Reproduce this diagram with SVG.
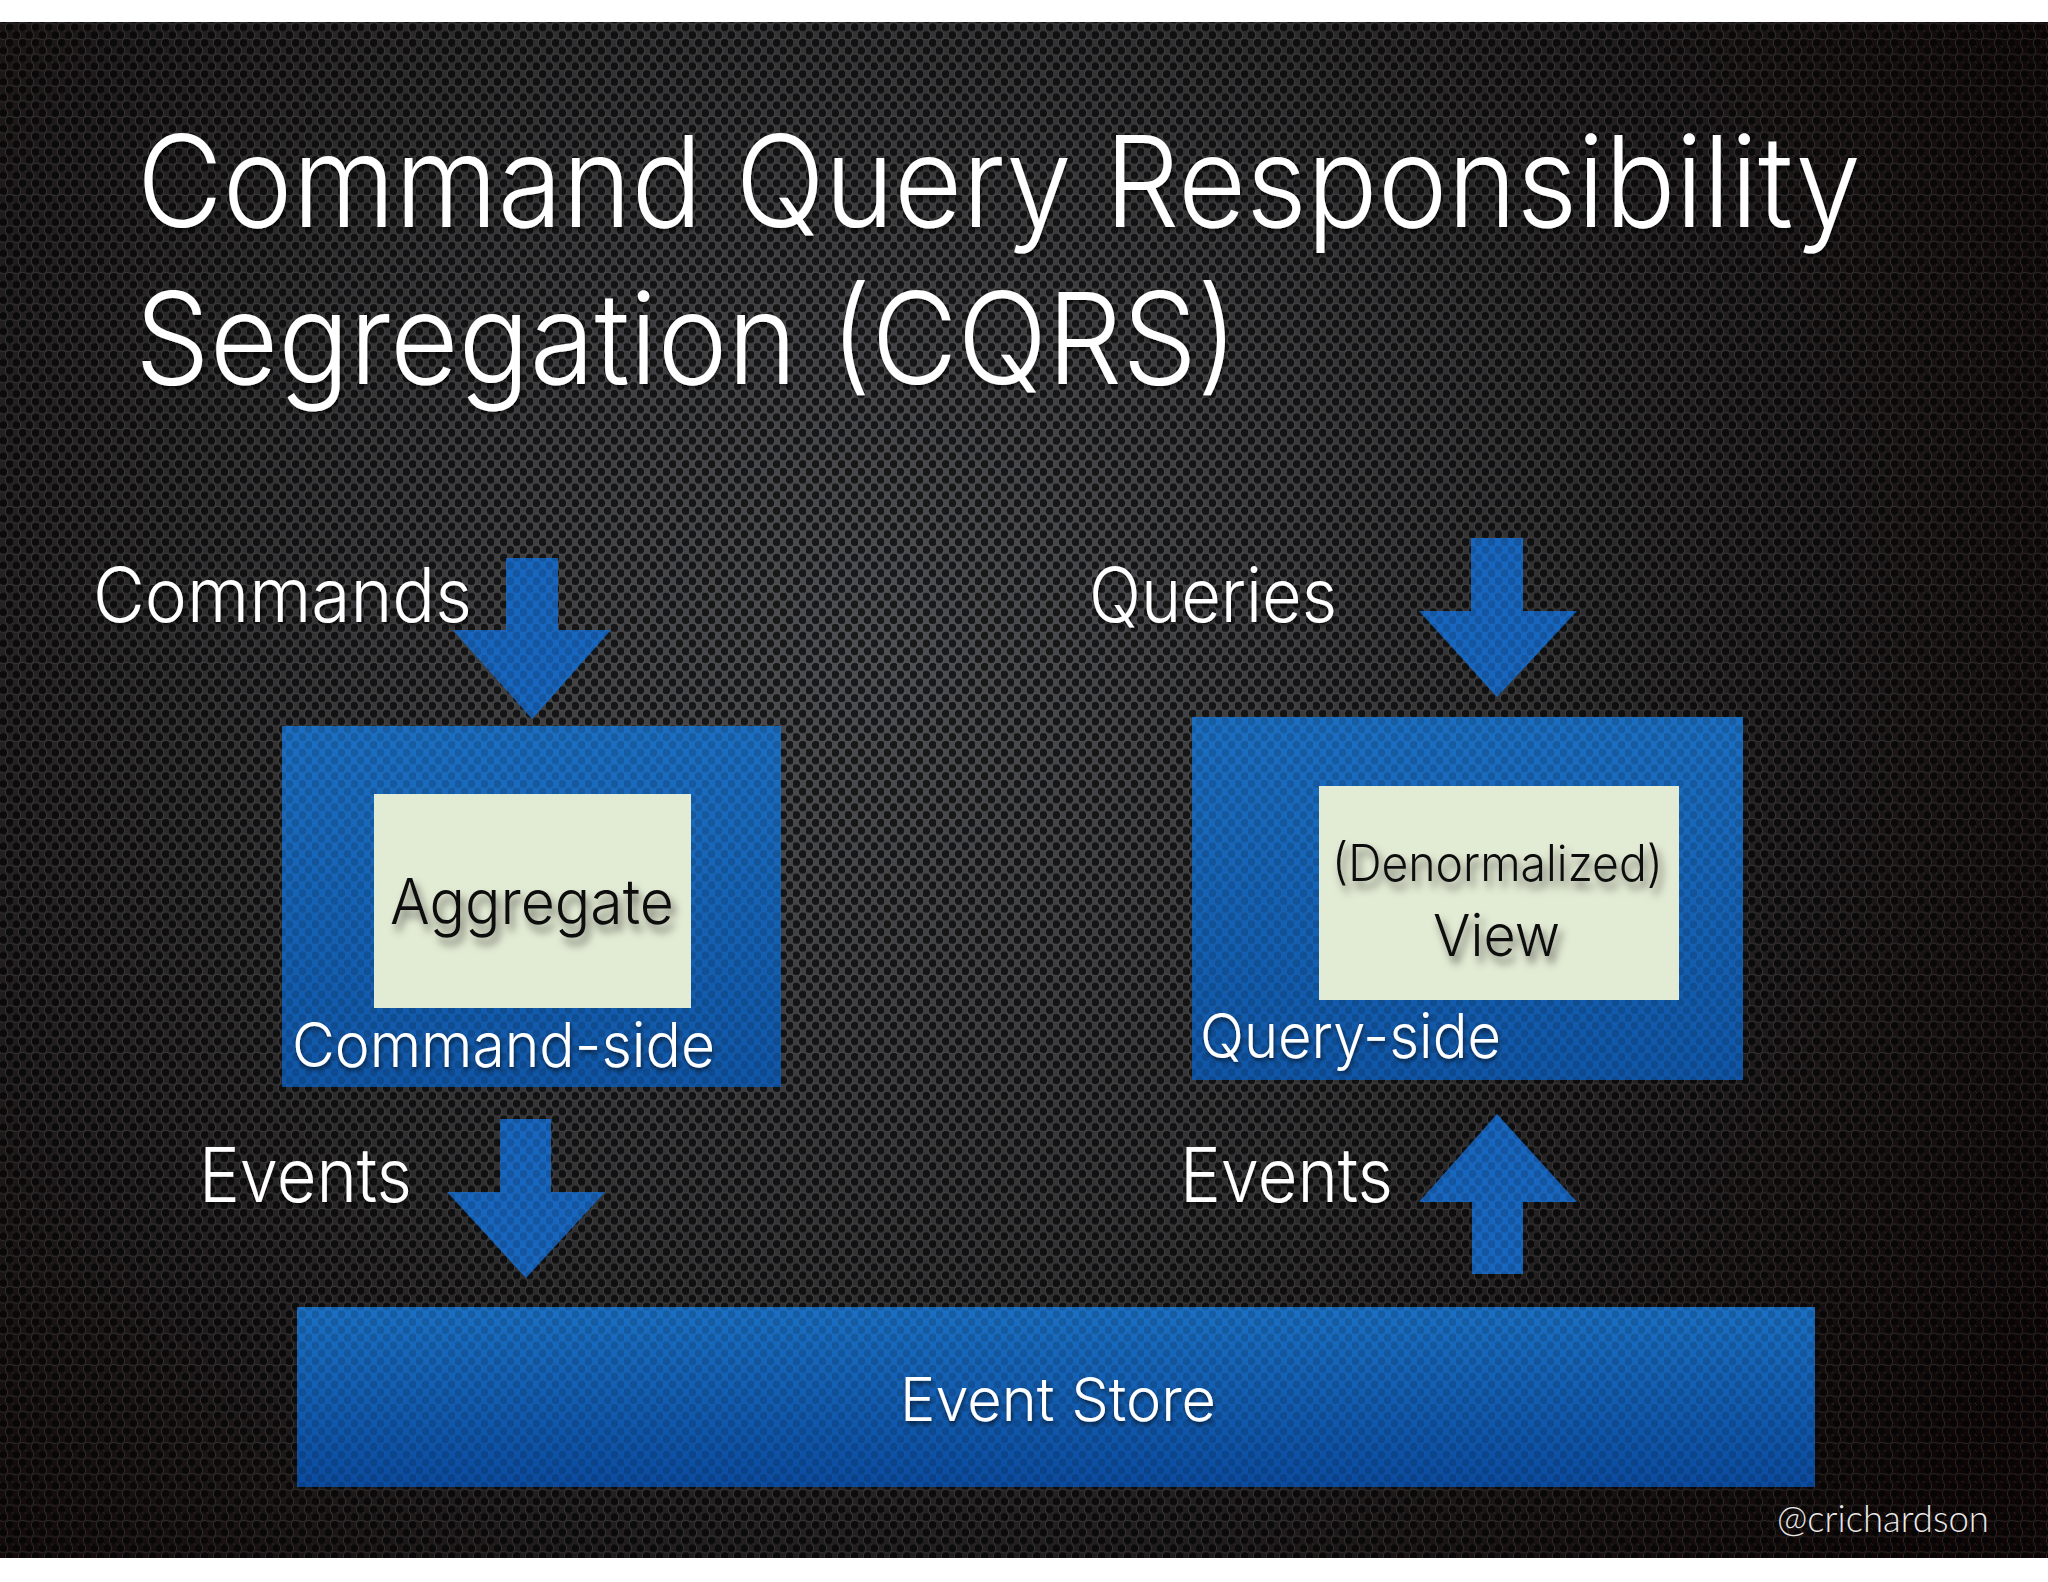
<svg xmlns="http://www.w3.org/2000/svg" width="2048" height="1582" viewBox="0 0 2048 1582">
  <defs>
    <style>
      .title { font-family: "Inter", "Liberation Sans", Arial, sans-serif; font-weight: 300; font-size: 127px; fill: #ffffff; }
      .lbl { font-family: "Inter", "Liberation Sans", Arial, sans-serif; font-weight: 300; font-size: 75px; fill: #ffffff; }
      .side { font-family: "Inter", "Liberation Sans", Arial, sans-serif; font-weight: 300; font-size: 62px; fill: #ffffff; }
      .inner { font-family: "Inter", "Liberation Sans", Arial, sans-serif; font-weight: 300; fill: #111111; }
      .store { font-family: "Inter", "Liberation Sans", Arial, sans-serif; font-weight: 300; font-size: 61px; fill: #ffffff; }
      .credit { font-family: "Lato", "Liberation Sans", Arial, sans-serif; font-weight: 300; font-size: 37px; fill: #e8e8e8; }
      .blue { fill: url(#blueGrad); }
      .arrow { fill: #1766bf; }
      .card { fill: #e2ebd4; }
      .holes { fill: url(#holes); }
      .holesFaint { fill: url(#holes); opacity: 0.22; }
    </style>
    <radialGradient id="bgGrad" cx="880" cy="640" r="1350" gradientUnits="userSpaceOnUse">
      <stop offset="0" stop-color="#505155"/>
      <stop offset="0.45" stop-color="#343436"/>
      <stop offset="0.8" stop-color="#1a1414"/>
      <stop offset="1" stop-color="#100606"/>
    </radialGradient>
    <linearGradient id="blueGrad" x1="0" y1="0" x2="0" y2="1">
      <stop offset="0" stop-color="#1b6fc3"/>
      <stop offset="1" stop-color="#0f56a8"/>
    </linearGradient>
    <linearGradient id="storeGrad" x1="0" y1="0" x2="0" y2="1">
      <stop offset="0" stop-color="#1a70c4"/>
      <stop offset="1" stop-color="#0a4ba0"/>
    </linearGradient>
    <pattern id="holes" patternUnits="userSpaceOnUse" width="13" height="15.6">
      <circle cx="3.25" cy="3.9" r="4.4" fill="#030303" fill-opacity="0.72" stroke="#b0b0b0" stroke-opacity="0.18" stroke-width="1"/>
      <circle cx="9.75" cy="11.7" r="4.4" fill="#030303" fill-opacity="0.72" stroke="#b0b0b0" stroke-opacity="0.18" stroke-width="1"/>
    </pattern>
    <filter id="darkShadow" x="-20%" y="-40%" width="140%" height="180%">
      <feGaussianBlur in="SourceAlpha" stdDeviation="4"/>
      <feOffset dx="4" dy="7" result="b"/>
      <feFlood flood-color="#000000" flood-opacity="0.55"/>
      <feComposite in2="b" operator="in"/>
      <feMerge><feMergeNode/><feMergeNode in="SourceGraphic"/></feMerge>
    </filter>
    <filter id="softShadow" x="-10%" y="-30%" width="120%" height="160%">
      <feGaussianBlur in="SourceAlpha" stdDeviation="2"/>
      <feOffset dx="1" dy="3" result="b"/>
      <feFlood flood-color="#000000" flood-opacity="0.6"/>
      <feComposite in2="b" operator="in"/>
      <feMerge><feMergeNode/><feMergeNode in="SourceGraphic"/></feMerge>
    </filter>
  </defs>

  <!-- page -->
  <rect x="0" y="0" width="2048" height="1582" fill="#ffffff"/>
  <rect x="0" y="22" width="2048" height="1536" fill="url(#bgGrad)"/>
  <rect x="0" y="22" width="2048" height="1536" class="holes"/>

  <!-- title -->
  <g id="title" filter="url(#softShadow)">
    <text class="title" x="137" y="227" textLength="1724" lengthAdjust="spacingAndGlyphs">Command Query Responsibility</text>
    <text class="title" x="135" y="384" textLength="1103" lengthAdjust="spacingAndGlyphs">Segregation (CQRS)</text>
  </g>

  <!-- connectors -->
  <g id="connectors">
    <g id="arrow-commands">
      <polygon class="arrow" points="506,558 558,558 558,630 611,630 532,719 453,630 506,630"/>
      <polygon class="holesFaint" points="506,558 558,558 558,630 611,630 532,719 453,630 506,630"/>
    </g>
    <g id="arrow-queries">
      <polygon class="arrow" points="1471,538 1523,538 1523,611 1577,611 1497,697 1419,611 1471,611"/>
      <polygon class="holesFaint" points="1471,538 1523,538 1523,611 1577,611 1497,697 1419,611 1471,611"/>
    </g>
    <g id="arrow-events-down">
      <polygon class="arrow" points="500,1119 551,1119 551,1192 605,1192 526,1278 447,1192 500,1192"/>
      <polygon class="holesFaint" points="500,1119 551,1119 551,1192 605,1192 526,1278 447,1192 500,1192"/>
    </g>
    <g id="arrow-events-up">
      <polygon class="arrow" points="1472,1274 1523,1274 1523,1202 1577,1202 1497,1114 1419,1202 1472,1202"/>
      <polygon class="holesFaint" points="1472,1274 1523,1274 1523,1202 1577,1202 1497,1114 1419,1202 1472,1202"/>
    </g>
    <g filter="url(#softShadow)">
      <text class="lbl" x="93" y="622" textLength="379" lengthAdjust="spacingAndGlyphs">Commands</text>
      <text class="lbl" x="1089" y="622" textLength="248" lengthAdjust="spacingAndGlyphs">Queries</text>
      <text class="lbl" x="199" y="1202" textLength="213" lengthAdjust="spacingAndGlyphs">Events</text>
      <text class="lbl" x="1180" y="1202" textLength="213" lengthAdjust="spacingAndGlyphs">Events</text>
    </g>
  </g>

  <!-- command side -->
  <g id="command-side">
    <rect class="blue" x="282" y="726" width="499" height="361"/>
    <rect class="holesFaint" x="282" y="726" width="499" height="361"/>
    <text class="side" x="292" y="1067" textLength="423" lengthAdjust="spacingAndGlyphs" filter="url(#softShadow)">Command-side</text>
  </g>
  <g id="aggregate">
    <rect class="card" x="374" y="794" width="317" height="214"/>
    <text class="inner" x="390" y="924" font-size="63" textLength="284" lengthAdjust="spacingAndGlyphs" filter="url(#darkShadow)">Aggregate</text>
  </g>

  <!-- query side -->
  <g id="query-side">
    <rect class="blue" x="1192" y="717" width="551" height="363"/>
    <rect class="holesFaint" x="1192" y="717" width="551" height="363"/>
    <text class="side" x="1200" y="1058" textLength="301" lengthAdjust="spacingAndGlyphs" filter="url(#softShadow)">Query-side</text>
  </g>
  <g id="view">
    <rect class="card" x="1319" y="786" width="360" height="214"/>
    <text class="inner" x="1332" y="881" font-size="50" textLength="331" lengthAdjust="spacingAndGlyphs" filter="url(#darkShadow)">(Denormalized)</text>
    <text class="inner" x="1433" y="956" font-size="58" textLength="127" lengthAdjust="spacingAndGlyphs" filter="url(#darkShadow)">View</text>
  </g>

  <!-- event store -->
  <g id="event-store">
    <rect x="297" y="1307" width="1518" height="180" fill="url(#storeGrad)"/>
    <rect class="holesFaint" x="297" y="1307" width="1518" height="180"/>
    <text class="store" x="900" y="1421" textLength="316" lengthAdjust="spacingAndGlyphs" filter="url(#softShadow)">Event Store</text>
  </g>

  <!-- credit -->
  <text class="credit" x="1777" y="1532" textLength="212" lengthAdjust="spacingAndGlyphs">@crichardson</text>
</svg>
